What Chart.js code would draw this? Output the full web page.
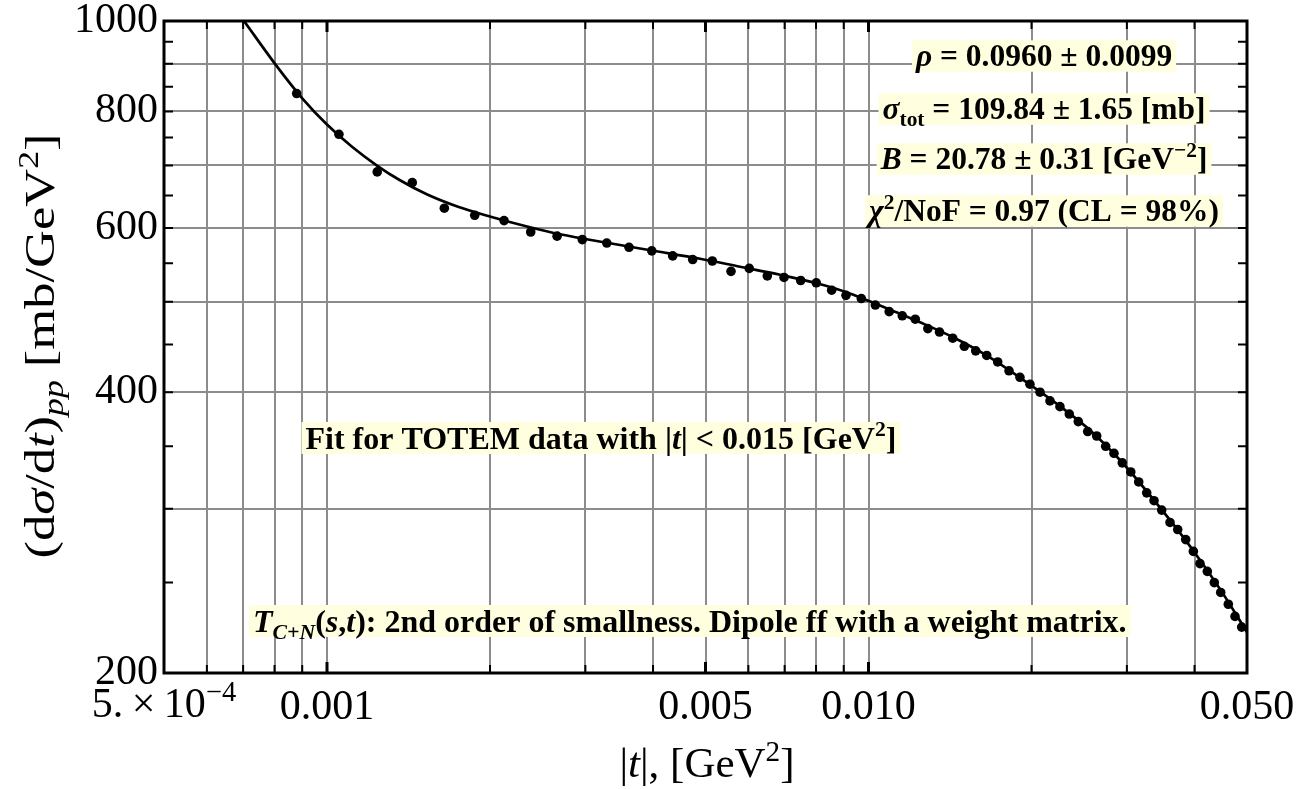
<!DOCTYPE html>
<html>
<head>
<meta charset="utf-8">
<script src="https://cdn.jsdelivr.net/npm/chart.js@4.4.0/dist/chart.umd.min.js"></script>
<style>
  html, body { margin: 0; padding: 0; background: #fff; }
  #wrap { width: 1311px; height: 789px; }
</style>
</head>
<body>
<div id="wrap"><canvas id="chart" width="1311" height="789"></canvas></div>
<script>
// TOTEM data points: |t| [GeV^2] and dsigma/dt [mb/GeV^2]
const tData = [
  8.79e-4, 1.052e-3, 1.238e-3, 1.437e-3, 1.647e-3, 1.874e-3, 2.123e-3, 2.378e-3, 2.660e-3, 2.961e-3,
  3.286e-3, 3.612e-3, 3.979e-3, 4.349e-3, 4.735e-3, 5.147e-3, 5.573e-3, 6.022e-3, 6.503e-3, 6.982e-3,
  7.495e-3, 8.008e-3, 8.550e-3, 9.087e-3, 9.699e-3, 1.0295e-2, 1.092e-2, 1.1545e-2, 1.220e-2, 1.287e-2,
  1.3525e-2, 1.4305e-2, 1.503e-2, 1.5775e-2, 1.653e-2, 1.732e-2, 1.8175e-2, 1.904e-2, 1.9865e-2, 2.0735e-2,
  2.1635e-2, 2.257e-2, 2.3485e-2, 2.44e-2, 2.54e-2, 2.6385e-2, 2.7415e-2, 2.84e-2, 2.942e-2, 3.05e-2,
  3.155e-2, 3.264e-2, 3.367e-2, 3.479e-2, 3.604e-2, 3.724e-2, 3.853e-2, 3.98e-2, 4.0945e-2, 4.2235e-2,
  4.351e-2, 4.471e-2, 4.618e-2, 4.7515e-2, 4.8885e-2
];
const dsdtData = [
  836, 756, 689, 671, 630, 619, 611, 594, 588, 583,
  578, 572, 567, 560, 555, 553, 539, 543, 533, 531,
  527, 524, 514.5, 508, 504, 496, 488, 483, 479, 468,
  464, 457, 448, 443, 438, 431, 421.7, 415, 408, 400,
  391.5, 386, 379, 372, 363, 359, 350, 344, 336, 328.5,
  320.5, 312, 306, 299, 290, 285, 278, 270, 262, 257,
  250, 244, 237, 230, 224
];

// fitted curve
const fitT = [
  7.026e-4, 8.016e-4, 9.018e-4, 9.987e-4, 1.1122e-3, 1.2384e-3, 1.364e-3, 1.528e-3, 1.7455e-3, 2.006e-3,
  2.3708e-3, 2.6934e-3, 3.331e-3, 4.005e-3, 4.884e-3, 5.79e-3, 6.8645e-3, 8.023e-3, 9.0485e-3, 9.9925e-3,
  1.1194e-2, 1.2448e-2, 1.4325e-2, 1.655e-2, 1.9869e-2, 2.2575e-2, 2.565e-2, 2.9385e-2, 3.4785e-2, 3.9795e-2,
  4.4715e-2, 5.0e-2
];
const fitDsdt = [
  1000, 899.7, 825.3, 775.0, 733.1, 699.5, 674.9, 652.0, 632.2, 616.8,
  601.0, 590.7, 577.7, 567.2, 556.1, 545.2, 534.5, 523.4, 512.6, 501.3,
  487.9, 475.4, 458.1, 437.7, 407.5, 386.4, 364.2, 336.5, 299.3, 270.5,
  245.4, 221.2
];

// axes
const xGridValues = [
  5e-4, 6e-4, 7e-4, 8e-4, 9e-4, 1e-3, 2e-3, 3e-3, 4e-3, 5e-3, 6e-3, 7e-3, 8e-3, 9e-3,
  1e-2, 2e-2, 3e-2, 4e-2, 5e-2
];
const xLabelValues = [1e-3, 5e-3, 1e-2, 5e-2];
const xLabelTexts = ['0.001', '0.005', '0.010', '0.050'];
const xMajorTicks = [1e-3, 5e-3, 1e-2];
const yGridValues = [200, 300, 400, 500, 600, 700, 800, 900, 1000];
const yLabelValues = [200, 400, 600, 800, 1000];
const yMinorTicks = [250, 350, 450, 550, 650, 750, 850, 950];

const SERIF = '"Liberation Serif", "Times New Roman", serif';

function sameVal(a, b) {
  return Math.abs(a - b) / b < 1e-6;
}

// text made of styled pieces (italic, sub, sup)
function richWidth(ctx, segs, size, weight) {
  let w = 0;
  segs.forEach(s => {
    const fs = (s.sub || s.sup) ? size * 0.68 : size;
    ctx.font = (s.it ? 'italic ' : '') + weight + ' ' + fs + 'px ' + SERIF;
    w += ctx.measureText(s.t).width;
  });
  return w;
}

function drawRich(ctx, segs, cx, cy, size, weight, bg) {
  ctx.save();
  const w = richWidth(ctx, segs, size, weight);
  if (bg) {
    ctx.fillStyle = bg;
    ctx.fillRect(cx - w / 2 - 4, cy - size * 0.5, w + 8, size);
  }
  let x = cx - w / 2;
  const base = cy + size * 0.33;
  ctx.fillStyle = '#000';
  ctx.textBaseline = 'alphabetic';
  ctx.textAlign = 'left';
  segs.forEach(s => {
    const fs = (s.sub || s.sup) ? size * 0.68 : size;
    ctx.font = (s.it ? 'italic ' : '') + weight + ' ' + fs + 'px ' + SERIF;
    let y = base;
    if (s.sub) y += size * 0.22;
    if (s.sup) y -= size * 0.38;
    ctx.fillText(s.t, x, y);
    x += ctx.measureText(s.t).width;
  });
  ctx.restore();
}

const notes = [
  { fx: 0.8126, fy: 0.0537, size: 31.5, segs: [{ t: '\u03C1', it: true }, { t: ' = 0.0960 \u00B1 0.0099' }] },
  { fx: 0.8126, fy: 0.135, size: 31.5, segs: [{ t: '\u03C3', it: true }, { t: 'tot', sub: true }, { t: ' = 109.84 \u00B1 1.65 [mb]' }] },
  { fx: 0.8126, fy: 0.2117, size: 31.5, segs: [{ t: 'B', it: true }, { t: ' = 20.78 \u00B1 0.31 [GeV' }, { t: '\u22122', sup: true }, { t: ']' }] },
  { fx: 0.8126, fy: 0.2914, size: 31.5, segs: [{ t: '\u03C7', it: true }, { t: '2', sup: true }, { t: '/NoF = 0.97 (CL = 98%)' }] },
  { fx: 0.4035, fy: 0.6395, size: 32, segs: [{ t: 'Fit for TOTEM data with |' }, { t: 't', it: true }, { t: '| < 0.015 [GeV' }, { t: '2', sup: true }, { t: ']' }] },
  { fx: 0.4855, fy: 0.9202, size: 32, segs: [{ t: 'T', it: true }, { t: 'C+N', it: true, sub: true }, { t: '(' }, { t: 's', it: true }, { t: ',' }, { t: 't', it: true }, { t: '): 2nd order of smallness. Dipole ff with a weight matrix.' }] }
];

const framePlugin = {
  id: 'frame',
  afterDatasetsDraw(chart) {
    const ctx = chart.ctx;
    const a = chart.chartArea;
    notes.forEach(n => {
      drawRich(ctx, n.segs, a.left + n.fx * (a.right - a.left), a.top + n.fy * (a.bottom - a.top), n.size, 'bold', '#ffffdf');
    });
  },
  afterDraw(chart) {
    const ctx = chart.ctx;
    const a = chart.chartArea;
    const xs = chart.scales.x;
    const ys = chart.scales.y;
    ctx.save();
    ctx.strokeStyle = '#000';
    // tick marks pointing inwards
    xGridValues.forEach(v => {
      const px = xs.getPixelForValue(v);
      const major = xMajorTicks.some(m => sameVal(v, m));
      const len = major ? 11 : 8;
      ctx.lineWidth = major ? 3 : 2;
      ctx.beginPath();
      ctx.moveTo(px, a.top); ctx.lineTo(px, a.top + len);
      ctx.moveTo(px, a.bottom); ctx.lineTo(px, a.bottom - len);
      ctx.stroke();
    });
    ctx.lineWidth = 2;
    yGridValues.concat(yMinorTicks).forEach(v => {
      const py = ys.getPixelForValue(v);
      ctx.beginPath();
      ctx.moveTo(a.left, py); ctx.lineTo(a.left + 9, py);
      ctx.moveTo(a.right, py); ctx.lineTo(a.right - 9, py);
      ctx.stroke();
    });
    ctx.lineWidth = 3;
    ctx.strokeRect(a.left, a.top, a.right - a.left, a.bottom - a.top);
    ctx.restore();

    // first x label, 5.×10^-4
    drawRich(ctx, [{ t: '5.\u2009\u00D7\u200910' }, { t: '\u22124', sup: true }],
      xs.getPixelForValue(5e-4), 703, 42, 'normal', null);

    // axis titles
    drawRich(ctx, [{ t: '|' }, { t: 't', it: true }, { t: '|, [GeV' }, { t: '2', sup: true }, { t: ']' }],
      707, 763, 43, 'normal', null);
    ctx.save();
    ctx.translate(40, 346);
    ctx.rotate(-Math.PI / 2);
    ctx.scale(1.25, 1);
    drawRich(ctx, [{ t: '(d' }, { t: '\u03C3', it: true }, { t: '/d' }, { t: 't', it: true }, { t: ')' },
      { t: 'pp', it: true, sub: true }, { t: ' [mb/GeV' }, { t: '2', sup: true }, { t: ']' }],
      0, 0, 42, 'normal', null);
    ctx.restore();
  }
};

const ctx = document.getElementById('chart').getContext('2d');
new Chart(ctx, {
  type: 'scatter',
  data: {
    datasets: [
      {
        label: 'fit',
        data: fitT.map((t, i) => ({ x: t, y: fitDsdt[i] })),
        showLine: true,
        borderColor: '#000',
        borderWidth: 2.7,
        pointRadius: 0,
        cubicInterpolationMode: 'monotone',
        order: 2
      },
      {
        label: 'TOTEM',
        data: tData.map((t, i) => ({ x: t, y: dsdtData[i] })),
        showLine: false,
        backgroundColor: '#000',
        borderColor: '#000',
        pointRadius: 4.8,
        pointBorderWidth: 0,
        order: 1
      }
    ]
  },
  options: {
    responsive: false,
    animation: false,
    layout: { padding: { top: 21, right: 64, left: 0, bottom: 0 } },
    plugins: {
      legend: { display: false },
      tooltip: { enabled: false }
    },
    scales: {
      x: {
        type: 'logarithmic',
        min: 5e-4,
        max: 5e-2,
        afterBuildTicks: s => { s.ticks = xGridValues.map(v => ({ value: v })); },
        afterFit: s => { s.height = 116; s.paddingLeft = 0; s.paddingRight = 0; },
        grid: { color: '#8c8c8c', lineWidth: 2, drawTicks: false },
        border: { display: false },
        ticks: {
          autoSkip: false,
          maxRotation: 0,
          padding: 10,
          color: '#000',
          font: { family: SERIF, size: 42 },
          callback: (value) => {
            const i = xLabelValues.findIndex(v => sameVal(value, v));
            return i >= 0 ? xLabelTexts[i] : '';
          }
        }
      },
      y: {
        type: 'logarithmic',
        min: 200,
        max: 1000,
        afterBuildTicks: s => { s.ticks = yGridValues.map(v => ({ value: v })); },
        afterFit: s => { s.width = 164; s.paddingTop = 0; s.paddingBottom = 0; },
        grid: { color: '#8c8c8c', lineWidth: 2, drawTicks: false },
        border: { display: false },
        ticks: {
          autoSkip: false,
          padding: 6,
          color: '#000',
          font: { family: SERIF, size: 42, lineHeight: 0.95 },
          callback: (value) => yLabelValues.some(v => sameVal(value, v)) ? String(value) : ''
        }
      }
    }
  },
  plugins: [framePlugin]
});
</script>
</body>
</html>
